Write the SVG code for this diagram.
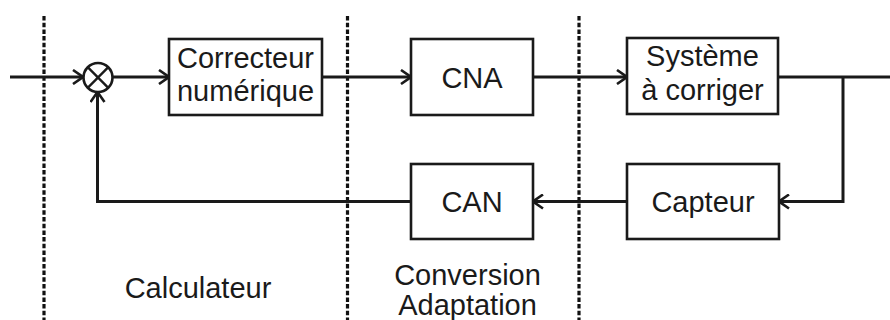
<svg xmlns="http://www.w3.org/2000/svg" width="890" height="320" viewBox="0 0 890 320">
  <defs>
    <marker id="arrow" viewBox="0 0 12 16" refX="11" refY="8" markerWidth="12" markerHeight="16" markerUnits="userSpaceOnUse" orient="auto">
      <path d="M1,1 L11,8 L1,15" fill="none" stroke="#1a1a1a" stroke-width="2.6"/>
    </marker>
  </defs>
  <style>
    .box { fill: #ffffff; stroke: #1a1a1a; stroke-width: 2.6; }
    .lbl { font-family: "Liberation Sans", Arial, sans-serif; font-size: 29px; fill: #1a1a1a; text-anchor: middle; }
    .wire { fill: none; stroke: #1a1a1a; stroke-width: 3; }
    .sep { fill: none; stroke: #111111; stroke-width: 3.2; stroke-dasharray: 4.5 2.2; }
  </style>
  <rect width="890" height="320" fill="#ffffff"/>

  <!-- zone separators -->
  <g id="separators">
    <line class="sep" x1="44" y1="16" x2="44" y2="320"/>
    <line class="sep" x1="347.5" y1="16" x2="347.5" y2="320"/>
    <line class="sep" x1="579" y1="16" x2="579" y2="320"/>
  </g>

  <!-- connectors -->
  <g id="connectors">
    <line class="wire" x1="10" y1="77" x2="83" y2="77" marker-end="url(#arrow)"/>
    <line class="wire" x1="113" y1="77" x2="169" y2="77" marker-end="url(#arrow)"/>
    <line class="wire" x1="322" y1="77" x2="411" y2="77" marker-end="url(#arrow)"/>
    <line class="wire" x1="533" y1="77" x2="627" y2="77" marker-end="url(#arrow)"/>
    <line class="wire" x1="778" y1="77" x2="890" y2="77"/>
    <polyline class="wire" points="843,77 843,201.5 779,201.5" marker-end="url(#arrow)"/>
    <line class="wire" x1="627" y1="201.5" x2="533" y2="201.5" marker-end="url(#arrow)"/>
    <polyline class="wire" points="411,201.5 97.5,201.5 97.5,92" marker-end="url(#arrow)"/>
  </g>

  <!-- summing junction -->
  <g id="sum">
    <circle cx="98" cy="77.5" r="14.5" fill="#ffffff" stroke="#1a1a1a" stroke-width="2.6"/>
    <line x1="87.7" y1="67.2" x2="108.3" y2="87.8" stroke="#1a1a1a" stroke-width="2.4"/>
    <line x1="108.3" y1="67.2" x2="87.7" y2="87.8" stroke="#1a1a1a" stroke-width="2.4"/>
  </g>

  <g id="correcteur">
    <rect class="box" x="169" y="39" width="153" height="76"/>
    <text class="lbl" x="245.5" y="68">Correcteur</text>
    <text class="lbl" x="245.5" y="101">numérique</text>
  </g>

  <g id="cna">
    <rect class="box" x="411" y="39" width="122" height="76"/>
    <text class="lbl" x="472" y="88">CNA</text>
  </g>

  <g id="systeme">
    <rect class="box" x="627" y="38" width="151" height="76"/>
    <text class="lbl" x="702.5" y="66">Système</text>
    <text class="lbl" x="702.5" y="100">à corriger</text>
  </g>

  <g id="can">
    <rect class="box" x="411" y="164" width="122" height="75"/>
    <text class="lbl" x="472" y="212">CAN</text>
  </g>

  <g id="capteur">
    <rect class="box" x="627" y="164" width="152" height="75"/>
    <text class="lbl" x="703" y="212">Capteur</text>
  </g>

  <!-- zone labels -->
  <g id="zone-labels">
    <text class="lbl" x="198" y="298">Calculateur</text>
    <text class="lbl" x="467.5" y="285">Conversion</text>
    <text class="lbl" x="467.5" y="315">Adaptation</text>
  </g>
</svg>
